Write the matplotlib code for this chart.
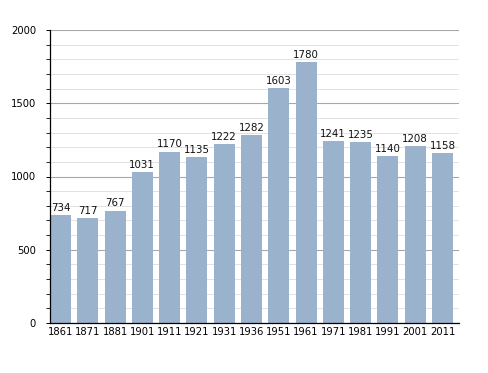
import matplotlib
matplotlib.use("Agg")
import matplotlib.pyplot as plt
import numpy as np
from matplotlib.ticker import MultipleLocator

years = ["1861", "1871", "1881", "1901", "1911", "1921", "1931", "1936",
         "1951", "1961", "1971", "1981", "1991", "2001", "2011"]
population = [734, 717, 767, 1031, 1170, 1135, 1222, 1282,
              1603, 1780, 1241, 1235, 1140, 1208, 1158]

fig = plt.figure(figsize=(4.88, 3.73), dpi=100)
ax = fig.add_axes([50/488, 1 - 323/373, (459-50)/488, (323-30)/373])

x = np.arange(len(years))
w = 0.77
bars = ax.bar(x, population, width=w, color="#9bb2cd", zorder=2)
for xi, v in zip(x, population):
    ax.text(xi, v + 15, str(v), ha="center", va="bottom", fontsize=7.4, color="#111111", zorder=3)

ax.set_xlim(-w/2, len(years) - 1 + w/2 + 0.22)
ax.set_ylim(0, 2000)
ax.yaxis.set_major_locator(MultipleLocator(500))
ax.yaxis.set_minor_locator(MultipleLocator(100))
ax.grid(axis="y", which="major", color="#a8a8a8", linewidth=0.8, zorder=0)
ax.grid(axis="y", which="minor", color="#e2e2e2", linewidth=0.7, zorder=0)
ax.set_xticks(x)
ax.set_xticklabels(years)
ax.tick_params(axis="x", length=0, labelsize=7.2, pad=3)
ax.tick_params(axis="y", which="major", length=3, width=0.7, labelsize=7.2, pad=7)
ax.tick_params(axis="y", which="minor", length=3, width=0.6)
for s in ["top", "right"]:
    ax.spines[s].set_visible(False)
ax.spines["left"].set_linewidth(0.9)
ax.spines["bottom"].set_linewidth(0.9)
ax.set_axisbelow(True)

fig.savefig("out.png", dpi=100)
